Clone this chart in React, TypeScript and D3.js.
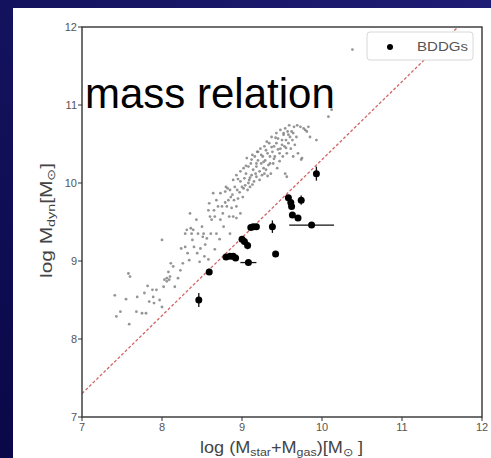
import React from "react";
import * as d3 from "d3";

const W = 491;
const H = 458;

// Comparison sample (gray dots): [log Mbar, log Mdyn]
const sampleX = [
  7.41, 7.43, 7.55, 7.48, 7.58, 7.60, 7.59, 7.69, 7.68, 7.75, 7.78, 7.80, 7.82, 7.84, 7.88, 7.89, 7.90, 7.93, 7.97, 8.00,
  8.00, 8.02, 8.06, 8.08, 8.10, 8.11, 8.14, 8.16, 8.20, 8.23, 8.24, 8.26, 8.29, 8.31, 8.32, 8.34, 8.35, 8.36, 8.37, 8.38,
  8.40, 8.43, 8.44, 8.45, 8.48, 8.50, 8.51, 8.52, 8.53, 8.54, 8.56, 8.58, 8.59, 8.60, 8.61, 8.62, 8.64, 8.65, 8.66, 8.68,
  8.68, 8.70, 8.73, 8.73, 8.75, 8.76, 8.77, 8.79, 8.80, 8.81, 8.83, 8.84, 8.85, 8.87, 8.88, 8.89, 8.90, 8.91, 8.93, 8.93,
  8.94, 8.95, 8.98, 8.98, 9.00, 9.01, 9.02, 9.03, 9.04, 9.05, 9.06, 9.07, 9.08, 9.09, 9.10, 9.11, 9.12, 9.13, 9.14, 9.15,
  9.16, 9.18, 9.18, 9.19, 9.20, 9.22, 9.23, 9.24, 9.25, 9.26, 9.27, 9.28, 9.29, 9.30, 9.31, 9.32, 9.33, 9.34, 9.35, 9.36,
  9.37, 9.38, 9.39, 9.40, 9.41, 9.43, 9.43, 9.44, 9.45, 9.47, 9.48, 9.48, 9.50, 9.51, 9.52, 9.53, 9.54, 9.55, 9.56, 9.57,
  9.58, 9.59, 9.60, 9.61, 9.62, 9.63, 9.64, 9.65, 9.66, 9.68, 9.69, 9.70, 9.73, 9.75, 9.77, 9.79, 9.81, 9.83, 9.85, 9.93,
  10.08, 10.12, 10.38,
  8.03, 8.06, 8.09, 8.29, 8.39, 8.47, 8.58, 8.66, 8.72, 8.89, 8.85, 8.93, 8.98, 9.56, 9.54, 9.64, 9.74,
  9.05, 9.10, 9.12, 9.17, 9.20, 9.22, 9.24, 9.27, 9.30, 9.32, 9.35, 9.37, 9.40, 9.42, 9.45, 9.47, 9.50, 9.52, 9.55, 9.58,
  8.95, 8.97, 9.02, 9.08, 9.13, 8.86, 8.82, 8.79, 9.18, 9.28,
];
const sampleY = [
  8.56, 8.29, 8.51, 8.35, 8.84, 8.80, 8.19, 8.54, 8.35, 8.33, 8.59, 8.33, 8.68, 8.48, 8.63, 8.54, 8.46, 8.63, 8.50, 9.27,
  8.41, 8.67, 8.74, 8.86, 8.80, 8.97, 8.93, 8.67, 8.78, 8.88, 9.16, 8.97, 9.35, 9.40, 9.10, 9.01, 9.61, 9.42, 9.35, 9.27,
  9.18, 9.53, 9.10, 9.35, 9.16, 9.44, 9.31, 9.35, 9.06, 9.21, 9.29, 9.65, 9.74, 9.57, 9.35, 9.53, 9.87, 9.65, 9.57, 9.35,
  9.78, 9.70, 9.53, 9.87, 9.70, 9.61, 9.44, 9.89, 9.95, 9.70, 9.78, 9.57, 9.91, 9.68, 9.85, 10.04, 9.78, 9.95, 9.70, 10.10,
  9.91, 9.80, 10.02, 10.15, 9.95, 9.82, 10.19, 10.06, 9.97, 10.12, 10.32, 9.91, 10.21, 10.04, 9.95, 10.25, 10.10, 10.36, 10.17, 10.02,
  10.34, 10.21, 10.08, 10.40, 10.29, 10.15, 10.44, 10.25, 10.10, 10.34, 10.19, 10.47, 10.29, 10.17, 10.53, 10.38, 10.23, 10.51, 10.34, 10.12,
  10.59, 10.40, 10.25, 10.47, 10.34, 10.64, 10.51, 10.19, 10.57, 10.38, 10.68, 10.44, 10.55, 10.34, 10.64, 10.47, 10.70, 10.55, 10.38, 10.66,
  10.51, 10.74, 10.59, 10.44, 10.66, 10.55, 10.64, 10.72, 10.49, 10.59, 10.74, 10.38, 10.72, 10.32, 10.70, 10.68, 10.66, 10.72, 10.59, 10.55,
  10.85, 10.94, 11.71,
  8.76, 8.78, 8.76, 9.18, 9.40, 8.99, 9.02, 9.15, 9.28, 9.57, 9.35, 9.55, 9.61, 10.08, 10.12, 10.34, 10.30,
  10.22, 10.07, 10.30, 10.12, 10.40, 10.04, 10.36, 10.27, 10.42, 10.09, 10.25, 10.46, 10.31, 10.58, 10.43, 10.28, 10.49, 10.62, 10.45, 10.62,
  10.05, 9.88, 9.93, 10.00, 9.98, 9.82, 9.93, 9.75, 10.25, 10.12,
];

// BDDGs (black points with error bars)
const bddgX = [8.46, 8.59, 8.80, 8.85, 8.89, 8.92, 9.00, 9.03, 9.07, 9.08, 9.11, 9.14, 9.18, 9.38, 9.42, 9.58, 9.61, 9.62, 9.63, 9.70, 9.74, 9.87, 9.93];
const bddgY = [8.50, 8.86, 9.05, 9.06, 9.06, 9.04, 9.28, 9.25, 9.20, 8.98, 9.43, 9.44, 9.44, 9.44, 9.09, 9.81, 9.75, 9.70, 9.59, 9.55, 9.78, 9.46, 10.12];
const bddgXErr = [0.02, 0.02, 0.02, 0.02, 0.02, 0.02, 0.02, 0.02, 0.02, 0.10, 0.02, 0.02, 0.02, 0.02, 0.02, 0.02, 0.02, 0.02, 0.02, 0.02, 0.02, 0.28, 0.02];
const bddgYErr = [0.09, 0.04, 0.03, 0.03, 0.03, 0.03, 0.04, 0.04, 0.05, 0.02, 0.02, 0.02, 0.02, 0.08, 0.02, 0.03, 0.03, 0.03, 0.03, 0.02, 0.06, 0.02, 0.09];

const xTicks = [7, 8, 9, 10, 11, 12];
const yTicks = [7, 8, 9, 10, 11, 12];
const relationOffset = 0.3; // dashed line: y = x + 0.3
const legendLabel = "BDDGs";
const overlayTitle = "mass relation";

export default function App() {
  const left = 82, right = 482, top = 27, bottom = 417;
  const x = d3.scaleLinear().domain([7, 12]).range([left, right]);
  const y = d3.scaleLinear().domain([7, 12]).range([bottom, top]);

  const lineX0 = 7;
  const lineX1 = 12 - relationOffset;
  const relLine = d3.line<number>().x((d) => x(d)).y((d) => y(d + relationOffset))([lineX0, lineX1]) || "";

  const font = "'Liberation Sans', Arial, sans-serif";
  const tickColor = "#555";

  return (
    <svg width={W} height={H} style={{ position: "absolute", left: 0, top: 0, display: "block" }}>
      <defs>
        <linearGradient id="bg" x1="0" y1="1" x2="1" y2="0">
          <stop offset="0" stopColor="#0a0848" />
          <stop offset="1" stopColor="#1e1d74" />
        </linearGradient>
        <clipPath id="plotClip">
          <rect x={left} y={top} width={right - left} height={bottom - top} />
        </clipPath>
      </defs>
      <rect x={0} y={0} width={W} height={H} fill="url(#bg)" />
      <rect x={13} y={8} width={W - 13} height={H - 8} fill="#ffffff" />

      {/* gray sample */}
      <g clipPath="url(#plotClip)">
        {sampleX.map((v, i) => (
          <circle key={"s" + i} cx={x(v)} cy={y(sampleY[i])} r={1.4} fill="#7a7a7a" opacity={0.8} />
        ))}
        <path d={relLine} stroke="#c94848" strokeWidth={1.3} strokeDasharray="3 2" fill="none" opacity={0.85} />
        {bddgX.map((v, i) => (
          <g key={"b" + i}>
            <line x1={x(v - bddgXErr[i])} x2={x(v + bddgXErr[i])} y1={y(bddgY[i])} y2={y(bddgY[i])} stroke="#111" strokeWidth={1.3} />
            <line x1={x(v)} x2={x(v)} y1={y(bddgY[i] - bddgYErr[i])} y2={y(bddgY[i] + bddgYErr[i])} stroke="#111" strokeWidth={1.3} />
            <circle cx={x(v)} cy={y(bddgY[i])} r={3.5} fill="#000" />
          </g>
        ))}
      </g>

      {/* frame */}
      <rect x={left} y={top} width={right - left} height={bottom - top} fill="none" stroke="#333" strokeWidth={1.4} />

      {/* ticks */}
      {xTicks.map((t) => (
        <g key={"xt" + t}>
          <line x1={x(t)} x2={x(t)} y1={bottom} y2={bottom + 4} stroke="#333" strokeWidth={1} />
          <text x={x(t)} y={431} fontSize={11} fontFamily={font} fill={tickColor} textAnchor="middle">{t}</text>
        </g>
      ))}
      {yTicks.map((t) => (
        <g key={"yt" + t}>
          <line x1={left - 4} x2={left} y1={y(t)} y2={y(t)} stroke="#333" strokeWidth={1} />
          <text x={left - 5} y={y(t) + 4} fontSize={11} fontFamily={font} fill={tickColor} textAnchor="end">{t}</text>
        </g>
      ))}

      {/* axis labels */}
      <text x={200} y={453} fontSize={16} fontFamily={font} fill="#444" textLength={163} lengthAdjust="spacingAndGlyphs">
        log (M<tspan fontSize={11} dy={3}>star</tspan><tspan dy={-3}>+M</tspan><tspan fontSize={11} dy={3}>gas</tspan><tspan dy={-3}>)[M</tspan><tspan fontSize={11} dy={3}>⊙</tspan><tspan dy={-3}> ]</tspan>
      </text>
      <text transform={`translate(52, 278) rotate(-90)`} fontSize={16} fontFamily={font} fill="#444" textLength={115} lengthAdjust="spacingAndGlyphs">
        log M<tspan fontSize={11} dy={3}>dyn</tspan><tspan dy={-3}>[M</tspan><tspan fontSize={11} dy={3}>⊙</tspan><tspan dy={-3}>]</tspan>
      </text>

      {/* legend */}
      <rect x={367} y={32} width={106} height={28} rx={3} fill="#fff" stroke="#d8d8d8" strokeWidth={1} />
      <circle cx={390} cy={47} r={3} fill="#000" />
      <text x={417} y={51} fontSize={12} fontFamily={font} fill="#555" textLength={51} lengthAdjust="spacingAndGlyphs">{legendLabel}</text>

      {/* overlay title */}
      <text x={85} y={108} fontSize={42} fontFamily={font} fill="#000">{overlayTitle}</text>
    </svg>
  );
}
